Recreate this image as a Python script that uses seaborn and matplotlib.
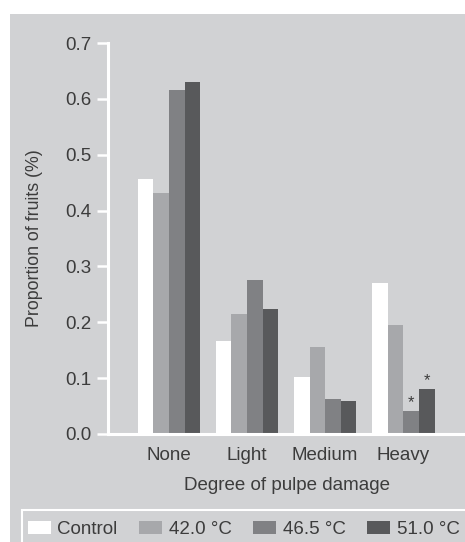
import pandas as pd
import seaborn as sns
import matplotlib.pyplot as plt
from matplotlib.patches import Rectangle, Patch

# values
categories = ["None", "Light", "Medium", "Heavy"]
treatments = ["Control", "42.0 °C", "46.5 °C", "51.0 °C"]
control = [0.457, 0.166, 0.102, 0.270]
t420 = [0.432, 0.214, 0.155, 0.195]
t465 = [0.616, 0.275, 0.062, 0.041]
t510 = [0.630, 0.223, 0.059, 0.080]
# bars marked with an asterisk
starred = [("46.5 °C", "Heavy"), ("51.0 °C", "Heavy")]

rows = []
for name, vals in zip(treatments, [control, t420, t465, t510]):
    for cat, v in zip(categories, vals):
        rows.append({"damage": cat, "treatment": name, "prop": v})
data = pd.DataFrame(rows)

bg = "#d1d2d4"
txt = "#3c3c3c"
colors = ["#ffffff", "#a7a8ab", "#808184", "#58595b"]

plt.rcParams["font.family"] = ["Liberation Sans", "DejaVu Sans"]
plt.rcParams["font.size"] = 13.5

fig = plt.figure(figsize=(4.65, 5.42), dpi=100, facecolor="white")
W, H = 465, 542
# grey panel behind everything, white margin top and left
fig.patches.append(Rectangle((10 / W, 0), 1 - 10 / W, 1 - 14 / H,
                             transform=fig.transFigure, facecolor=bg,
                             edgecolor="none", zorder=-10))
# legend box outline (runs off the right and bottom edges)
fig.patches.append(Rectangle((22 / W, -0.05), 1, 0.05 + 1 - 510 / H,
                             transform=fig.transFigure, facecolor="none",
                             edgecolor="white", linewidth=1.5, zorder=-5))

ax = fig.add_axes([108 / W, 1 - 434 / H, (W - 108) / W, (434 - 43) / H])
ax.set_facecolor(bg)

sns.barplot(data=data, x="damage", y="prop", hue="treatment",
            order=categories, hue_order=treatments, palette=colors,
            saturation=1, width=0.8, edgecolor="none", linewidth=0,
            legend=False, ax=ax)

# asterisks over the significant bars
for i, name in enumerate(treatments):
    for bar, cat in zip(ax.containers[i], categories):
        if (name, cat) in starred:
            ax.annotate("*", (bar.get_x() + bar.get_width() / 2, bar.get_height()),
                        xytext=(0, 1), textcoords="offset points",
                        ha="center", va="bottom", fontsize=12, color=txt)

ax.set_ylim(0, 0.7)
ax.set_xlim(-0.78, 3.79)
ax.set_yticks([0, 0.1, 0.2, 0.3, 0.4, 0.5, 0.6, 0.7])
ax.set_yticklabels(["0.0", "0.1", "0.2", "0.3", "0.4", "0.5", "0.6", "0.7"])

for s in ["top", "right"]:
    ax.spines[s].set_visible(False)
for s in ["left", "bottom"]:
    ax.spines[s].set_color("white")
    ax.spines[s].set_linewidth(2.2)
ax.tick_params(axis="y", colors="white", length=8, width=1.8, pad=4,
               labelcolor=txt, labelsize=13.5)
ax.tick_params(axis="x", length=0, pad=9, labelcolor=txt, labelsize=13.5)

ax.set_xlabel("Degree of pulpe damage", color=txt, fontsize=13.5, labelpad=10)
ax.set_ylabel("Proportion of fruits (%)", color=txt, fontsize=12.8, labelpad=16)

handles = [Patch(facecolor=c, edgecolor="none") for c in colors]
leg = fig.legend(handles, treatments, loc="upper left",
                 bbox_to_anchor=(22 / W, 1 - 515 / H), ncol=4,
                 frameon=False, handlelength=1.23, handleheight=0.75,
                 handletextpad=0.35, columnspacing=1.15, borderpad=0.3,
                 borderaxespad=0, fontsize=13.5, labelcolor=txt)

fig.savefig("out.png", dpi=100, facecolor="white")
